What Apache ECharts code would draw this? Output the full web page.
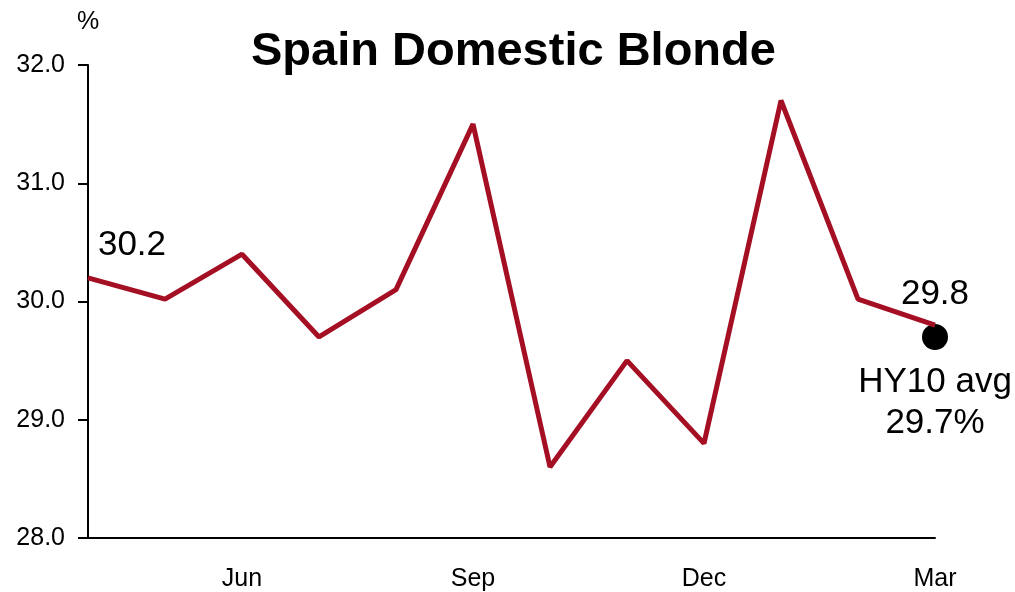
<!DOCTYPE html>
<html><head><meta charset="utf-8">
<script src="https://cdn.jsdelivr.net/npm/echarts@6/dist/echarts.min.js"></script>
<style>html,body{margin:0;padding:0;background:#fff}#c{width:1015px;height:592px}</style>
</head><body><div id="c"></div>
<script>
const categories = ['Apr','May','Jun','Jul','Aug','Sep','Oct','Nov','Dec','Jan','Feb','Mar'];
const shareValues = [30.2, 30.02, 30.4, 29.7, 30.1, 31.5, 28.6, 29.5, 28.8, 31.7, 30.02, 29.8];
const avgCategory = 'Mar';
const avgValue = 29.7;
const yTicks = {min: 28, max: 32, interval: 1};
const titleText = 'Spain Domestic Blonde';

const font = '"Liberation Sans", Arial, sans-serif';
const lineData = shareValues.map((v, i) => {
  if (i === 0) return {value: v, label: {show: true, position: 'top', offset: [44, -10], formatter: v.toFixed(1)}};
  if (i === shareValues.length - 1) return {value: v, label: {show: true, position: 'top', offset: [0, -8], formatter: v.toFixed(1)}};
  return v;
});
const chart = echarts.init(document.getElementById('c'));
chart.setOption({
  animation: false,
  title: {text: titleText, left: 246, top: 24, textStyle: {fontFamily: font, fontSize: 47, fontWeight: 'bold', color: '#000'}},
  grid: {left: 88, right: 80, top: 65, bottom: 53, containLabel: false},
  xAxis: {
    type: 'category', data: categories, boundaryGap: false,
    axisLine: {lineStyle: {color: '#000', width: 2}},
    axisTick: {show: false},
    axisLabel: {interval: (i) => i % 3 === 2, fontFamily: font, fontSize: 25, color: '#000', margin: 29}
  },
  yAxis: {
    type: 'value', min: yTicks.min, max: yTicks.max, interval: yTicks.interval,
    name: '%', nameLocation: 'end', nameGap: 30,
    nameTextStyle: {fontFamily: font, fontSize: 25, color: '#000', align: 'center'},
    axisLine: {show: true, lineStyle: {color: '#000', width: 2}},
    axisTick: {show: true, length: 10, lineStyle: {color: '#000', width: 2}},
    splitLine: {show: false},
    axisLabel: {formatter: (v) => v.toFixed(1), fontFamily: font, fontSize: 25, color: '#000', margin: 23, padding: [9, 0, 0, 0]}
  },
  series: [
    {type: 'line', data: lineData, symbol: 'circle', symbolSize: 0, showSymbol: true,
     itemStyle: {color: '#A50F24'},
     lineStyle: {color: '#A50F24', width: 5},
     label: {fontFamily: font, fontSize: 35, color: '#000'}},
    {type: 'scatter', data: [[avgCategory, avgValue]], symbol: 'circle', symbolSize: 26,
     itemStyle: {color: '#000', opacity: 1},
     label: {show: true, position: 'bottom', offset: [0, 7], formatter: 'HY10 avg\n' + avgValue.toFixed(1) + '%',
             fontFamily: font, fontSize: 35, lineHeight: 41, color: '#000', align: 'center'}}
  ]
});
</script></body></html>
